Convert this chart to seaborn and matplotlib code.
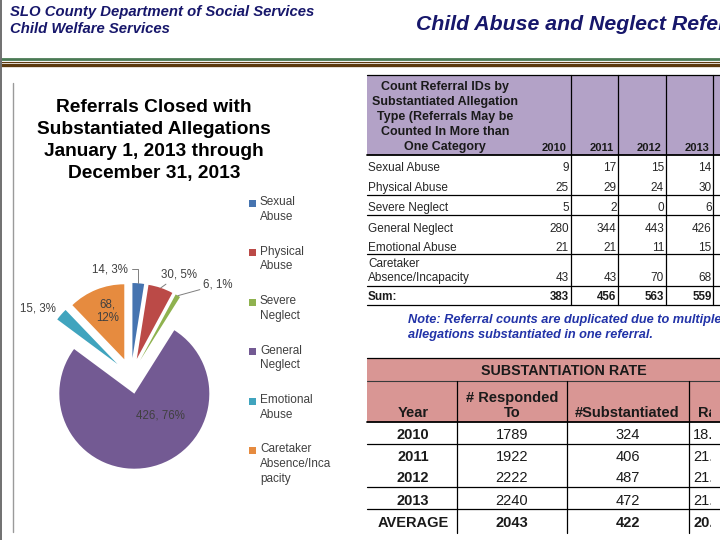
import numpy as np
import pandas as pd
import matplotlib.pyplot as plt
import matplotlib.patches as mpatches
from matplotlib.transforms import Bbox, TransformedBbox
import seaborn as sns

# ---- pie: referrals closed with substantiated allegations, 2013 ----
pie_labels = ['Sexual\nAbuse', 'Physical\nAbuse', 'Severe\nNeglect', 'General\nNeglect',
              'Emotional\nAbuse', 'Caretaker\nAbsence/Inca\npacity']
pie_values = [14, 30, 6, 426, 15, 68]
pie_pct = [3, 5, 1, 76, 3, 12]
pie_colors = ['#4674B0', '#BB4A47', '#8FB24F', '#735A93', '#40A4BE', '#E68B3F']

# ---- table 1: count of referral IDs by allegation type ----
years = ['2010', '2011', '2012', '2013']
count_rows = ['Sexual Abuse', 'Physical Abuse', 'Severe Neglect', 'General Neglect',
              'Emotional Abuse', 'Caretaker\nAbsence/Incapacity']
counts_2010 = [9, 25, 5, 280, 21, 43]
counts_2011 = [17, 29, 2, 344, 21, 43]
counts_2012 = [15, 24, 0, 443, 11, 70]
counts_2013 = [14, 30, 6, 426, 15, 68]
count_sums = [383, 456, 563, 559]

# ---- table 2: substantiation rate ----
rate_years = ['2010', '2011', '2012', '2013', 'AVERAGE']
responded = [1789, 1922, 2222, 2240, 2043]
substantiated = [324, 406, 487, 472, 422]
rates = ['18.1%', '21.1%', '21.9%', '21.1%', '20.7%']

counts = pd.DataFrame({'2010': counts_2010, '2011': counts_2011,
                       '2012': counts_2012, '2013': counts_2013}, index=count_rows)

sns.set_theme(style='white')
plt.rcParams['font.family'] = ['Liberation Sans', 'DejaVu Sans']

fig = plt.figure(figsize=(7.2, 5.4), dpi=100)
fig.patch.set_facecolor('white')

# background axes in pixel units (y down) for header, frames and tables
bg = fig.add_axes([0, 0, 1, 1])
bg.set_xlim(0, 720)
bg.set_ylim(540, 0)
bg.axis('off')

navy = '#17176B'
bg.text(10, 12, 'SLO County Department of Social Services', fontsize=10.7, weight='bold',
        style='italic', color=navy, va='center')
bg.text(10, 29, 'Child Welfare Services', fontsize=10.7, weight='bold',
        style='italic', color=navy, va='center')
bg.text(416, 25, 'Child Abuse and Neglect Referrals', fontsize=15.3, weight='bold',
        style='italic', color=navy, va='center')

# header rules
bg.plot([0, 720], [58.5, 58.5], color='#4A7A54', lw=2.0, solid_capstyle='butt')
bg.plot([0, 720], [62.2, 62.2], color='#5C3A0E', lw=0.8, solid_capstyle='butt')
bg.plot([0, 720], [65.0, 65.0], color='#5C3A0E', lw=2.4, solid_capstyle='butt')
bg.plot([0.7, 0.7], [0, 540], color='#707070', lw=1.4)
bg.plot([13, 13], [83, 532], color='#9A9A9A', lw=1.0)

# ---- pie chart ----
bg.text(154, 140.5, 'Referrals Closed with\nSubstantiated Allegations\nJanuary 1, 2013 through\nDecember 31, 2013',
        ha='center', va='center', fontsize=13.8, weight='bold', color='black', linespacing=1.36)

cx, cy, half = 131, 376, 120
ax = fig.add_axes([(cx - half) / 720, (540 - cy - half) / 540, 2 * half / 720, 2 * half / 540])
wedges, _ = ax.pie(pie_values, colors=pie_colors, startangle=90, counterclock=False,
                   explode=[0.24] * len(pie_values), radius=1,
                   wedgeprops=dict(edgecolor='none'))
ax.set_xlim(-1.6, 1.6)
ax.set_ylim(-1.6, 1.6)
ax.axis('off')

# label placement: (radial fraction, offset px, leader style)
label_cfg = [
    (1.0, (-28, 14), 'angle,angleA=0,angleB=90'),
    (1.0, (18, 13), 'arc3'),
    (1.0, (40, 11), 'arc3'),
    (0.55, (19, 19), None),
    (1.0, (-23, 6), None),
    (0.68, (2, 1), None),
]
for w, v, p, (frac, off, conn) in zip(wedges, pie_values, pie_pct, label_cfg):
    mid = np.deg2rad((w.theta1 + w.theta2) / 2)
    x0 = w.center[0] + frac * w.r * np.cos(mid)
    y0 = w.center[1] + frac * w.r * np.sin(mid)
    txt = f'{v},\n{p}%' if frac < 1 and p < 50 else f'{v}, {p}%'
    arrow = None
    if conn is not None:
        arrow = dict(arrowstyle='-', color='#7F7F7F', lw=0.7, shrinkA=0, shrinkB=0,
                     connectionstyle=conn)
    ax.annotate(txt, xy=(x0, y0), xytext=off, textcoords='offset pixels',
                ha='center', va='center', fontsize=8.3, color='#404040',
                linespacing=1.15, arrowprops=arrow)

# legend drawn by hand to keep the slide's spacing
for i, (lab, col) in enumerate(zip(pie_labels, pie_colors)):
    y = 203 + 49.5 * i
    bg.add_patch(mpatches.Rectangle((248.5, y - 3.5), 7, 7, facecolor=col, edgecolor='none'))
    bg.text(260, y - 7, lab, fontsize=8.5, color='#404040', va='top', ha='left', linespacing=1.3)

# ---- table 1 ----
purple = '#B3A2C7'
bg.add_patch(mpatches.Rectangle((367, 75), 360, 80, facecolor=purple, edgecolor='none'))
bg.plot([367, 720], [75, 75], color='black', lw=0.9)
bg.plot([367, 720], [155, 155], color='black', lw=1.3)
for yl in [195, 215, 254, 286, 305]:
    bg.plot([367, 720], [yl, yl], color='black', lw=0.9)
col_right = [570.5, 618, 665.5, 713]
for xr in col_right:
    bg.plot([xr, xr], [75, 305], color='black', lw=0.9)

bg.text(445, 117, 'Count Referral IDs by\nSubstantiated Allegation\nType (Referrals May be\nCounted In More than\nOne Category',
        ha='center', va='center', fontsize=9, weight='bold', color='#1A1A1A', linespacing=1.36)
for xr, yr in zip(col_right, years):
    bg.text(xr - 4, 148, yr, ha='right', va='center', fontsize=8, weight='bold', color='#1A1A1A')

row_y = [168, 188, 208, 229, 248, 271]
num_y = [168, 188, 208, 229, 248, 278]
for lab, ly, ny in zip(count_rows, row_y, num_y):
    bg.text(368, ly, lab, ha='left', va='center', fontsize=8.5, color='#262626', linespacing=1.3)
    for xr, yr in zip(col_right, years):
        bg.text(xr - 1.5, ny, str(counts.loc[lab, yr]), ha='right', va='center',
                fontsize=8.5, color='#262626')
bg.text(368, 297, 'Sum:', ha='left', va='center', fontsize=8.5, weight='bold', color='#1A1A1A')
for xr, s in zip(col_right, count_sums):
    bg.text(xr - 1.5, 297, str(s), ha='right', va='center', fontsize=8.3, weight='bold', color='#1A1A1A')

bg.text(408, 327.5, 'Note: Referral counts are duplicated due to multiple\nallegations substantiated in one referral.',
        ha='left', va='center', fontsize=9.2, weight='bold', style='italic', color='#2233A8',
        linespacing=1.3)

# ---- table 2 ----
pink = '#D99694'
bg.add_patch(mpatches.Rectangle((367, 358), 360, 64, facecolor=pink, edgecolor='none'))
bg.plot([367, 720], [358, 358], color='black', lw=0.9)
bg.plot([367, 720], [380.5, 380.5], color='#3A3A3A', lw=0.8)
bg.plot([367, 720], [422, 422], color='black', lw=1.3)
for yl in [444, 487, 509]:
    bg.plot([367, 720], [yl, yl], color='black', lw=0.9)
col_x = [457, 567, 689]
for xv in col_x:
    bg.plot([xv, xv], [380.5, 533], color='black', lw=0.9)

# the slide cuts the rate column off at its right edge
clip_box = TransformedBbox(Bbox([[0, 0], [711, 540]]), bg.transData)
bg.text(564, 371, 'SUBSTANTIATION RATE', ha='center', va='center', fontsize=10.3,
        weight='bold', color='#1A1A1A')
centers = [413, 512, 627.5, 714]
heads = ['Year', '# Responded\nTo', '#Substantiated', 'Rate']
for c, h in zip(centers, heads):
    t = bg.text(c, 420, h, ha='center', va='bottom', fontsize=10.5, weight='bold',
                color='#1A1A1A', linespacing=1.1, clip_on=True)
    t.set_clip_box(clip_box)

table2 = pd.DataFrame({'Year': rate_years, 'Responded': responded,
                       'Substantiated': substantiated, 'Rate': rates})
row2_y = [435, 457, 478, 501, 523]
for (_, r), yy in zip(table2.iterrows(), row2_y):
    bold = r['Year'] == 'AVERAGE'
    vals = [r['Year'], str(r['Responded']), str(r['Substantiated']), r['Rate']]
    for j, (c, v) in enumerate(zip(centers, vals)):
        t = bg.text(c, yy, v, ha='center', va='center', fontsize=10.5,
                    weight='bold' if (bold or j == 0) else 'normal', color='#1A1A1A',
                    clip_on=True)
        t.set_clip_box(clip_box)

fig.savefig('out.png', dpi=100, facecolor='white')
